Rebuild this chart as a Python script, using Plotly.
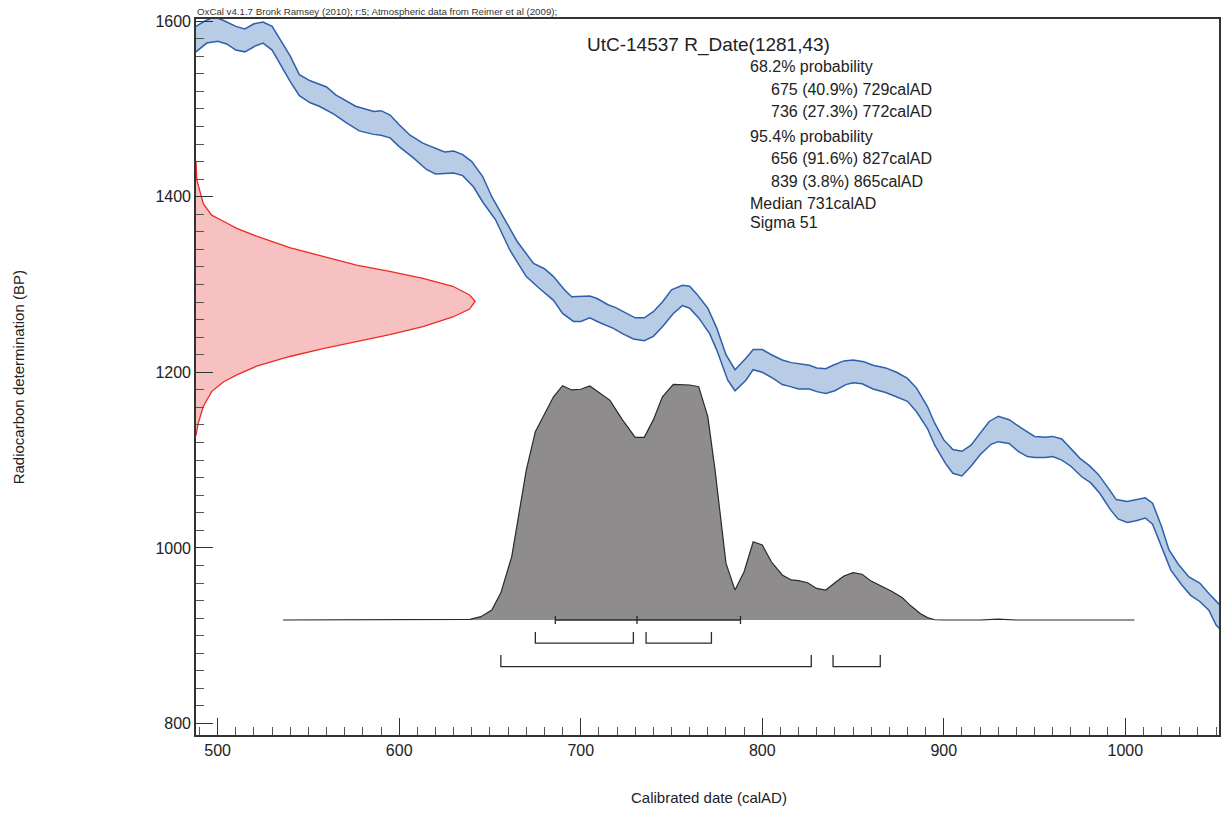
import plotly.graph_objects as go

# ---------------- data ----------------
# Calibration curve (IntCal09 band), upper and lower 1-sigma edges
cal_year_upper = [488, 492, 498, 503, 510, 515, 520, 525, 530, 534, 540, 545, 551, 560, 565, 576, 586, 590, 595, 600,
                  606, 613, 625, 630, 635, 640, 646, 651, 659, 665, 674, 680, 685, 691, 695, 705, 709, 715, 719, 725,
                  730, 735, 740, 745, 750, 756, 760, 764, 770, 775, 780, 785, 791, 795, 800, 805, 811, 816, 826, 830,
                  835, 839, 845, 850, 856, 861, 868, 874, 880, 885, 891, 895, 900, 905, 910, 915, 920, 925, 930, 936,
                  943, 950, 956, 960, 965, 970, 975, 980, 985, 991, 995, 1001, 1006, 1011, 1015, 1020, 1024, 1029,
                  1035, 1041, 1046, 1052]
cal_bp_upper = [1594, 1599, 1605, 1601, 1594, 1591, 1597, 1599, 1594, 1580, 1560, 1539, 1532, 1525, 1516, 1503, 1497,
                1498, 1493, 1482, 1470, 1461, 1451, 1452, 1448, 1440, 1423, 1400, 1370, 1349, 1324, 1318, 1309, 1294,
                1286, 1287, 1284, 1277, 1274, 1267, 1262, 1262, 1269, 1280, 1294, 1299, 1298, 1289, 1273, 1250, 1220,
                1203, 1216, 1226, 1226, 1220, 1214, 1211, 1208, 1205, 1204, 1208, 1213, 1214, 1212, 1208, 1205, 1200,
                1193, 1182, 1161, 1142, 1123, 1112, 1110, 1117, 1131, 1144, 1150, 1146, 1136, 1127, 1126, 1127, 1124,
                1113, 1102, 1094, 1084, 1067, 1055, 1053, 1055, 1057, 1051, 1024, 998, 982, 967, 960, 948, 935]
cal_year_lower = [488, 494, 500, 505, 510, 515, 521, 525, 530, 534, 540, 545, 551, 556, 564, 571, 578, 586, 590, 595,
                  600, 608, 615, 620, 630, 635, 641, 646, 653, 661, 670, 677, 685, 690, 696, 700, 705, 710, 718, 723,
                  729, 735, 740, 745, 751, 756, 760, 765, 771, 775, 781, 785, 791, 795, 800, 806, 811, 815, 820, 826,
                  830, 835, 840, 846, 850, 855, 861, 868, 874, 880, 885, 891, 895, 901, 905, 910, 915, 920, 926, 930,
                  936, 941, 946, 950, 956, 960, 965, 970, 976, 981, 986, 992, 996, 1001, 1006, 1011, 1015, 1020, 1025,
                  1031, 1036, 1041, 1046, 1050, 1052]
cal_bp_lower = [1565, 1575, 1577, 1574, 1567, 1565, 1572, 1575, 1567, 1552, 1531, 1515, 1507, 1503, 1494, 1484, 1475,
                1471, 1470, 1467, 1457, 1444, 1431, 1426, 1427, 1424, 1411, 1394, 1374, 1339, 1309, 1296, 1282, 1267,
                1258, 1258, 1262, 1257, 1250, 1244, 1238, 1236, 1241, 1252, 1267, 1276, 1273, 1262, 1244, 1225, 1191,
                1179, 1191, 1203, 1200, 1193, 1186, 1184, 1181, 1181, 1178, 1176, 1179, 1186, 1188, 1187, 1181, 1177,
                1172, 1167, 1155, 1136, 1117, 1096, 1085, 1082, 1093, 1106, 1118, 1121, 1119, 1110, 1104, 1103, 1103,
                1104, 1100, 1093, 1081, 1074, 1062, 1043, 1033, 1029, 1031, 1034, 1027, 1001, 975, 958, 946, 939, 929,
                912, 908]

# Radiocarbon measurement R_Date(1281,43): relative probability vs BP
date_bp = [1440, 1419, 1392, 1379, 1372, 1364, 1355, 1342, 1332, 1322, 1315, 1307, 1298, 1288, 1281,
           1272, 1263, 1252, 1243, 1235, 1227, 1218, 1207, 1197, 1189, 1178, 1161, 1142, 1128]
date_prob = [0, 0.003, 0.026, 0.056, 0.098, 0.146, 0.217, 0.336, 0.455, 0.575, 0.694, 0.813, 0.92, 0.98, 1.0,
             0.98, 0.92, 0.813, 0.694, 0.575, 0.455, 0.336, 0.217, 0.146, 0.098, 0.056, 0.026, 0.008, 0]

# Calibrated date: relative probability vs calAD
cal_dist_year = [536, 600, 620, 630, 639, 645, 651, 656, 662, 670, 675, 685, 690, 695, 700, 705, 711, 716, 723, 730,
                 735, 740, 745, 751, 760, 765, 770, 774, 780, 785, 790, 795, 800, 805, 811, 816, 820, 825, 830, 835,
                 840, 845, 850, 855, 860, 866, 871, 877, 882, 887, 891, 895, 900, 920, 930, 940, 1005]
cal_dist_prob = [0, 0, 0.001, 0.002, 0.003, 0.014, 0.042, 0.115, 0.269, 0.636, 0.799, 0.947, 0.994, 0.976, 0.979,
                 0.993, 0.962, 0.933, 0.849, 0.775, 0.775, 0.849, 0.947, 1.0, 0.997, 0.990, 0.863, 0.636, 0.241,
                 0.127, 0.205, 0.332, 0.318, 0.247, 0.191, 0.170, 0.167, 0.158, 0.134, 0.127, 0.158, 0.187, 0.201,
                 0.194, 0.165, 0.144, 0.123, 0.096, 0.059, 0.028, 0.010, 0.001, 0, 0, 0.004, 0, 0]

# Ranges
range68_from = [675, 736]
range68_to = [729, 772]
range68_pct = ["40.9", "27.3"]
range95_from = [656, 839]
range95_to = [827, 865]
range95_pct = ["91.6", "3.8"]
median_date = 731
mean_date = 737
sigma_date = 51

x_tick_labels = ["500", "600", "700", "800", "900", "1000"]
y_tick_labels = ["800", "1000", "1200", "1400", "1600"]

# ---------------- style ----------------
FONT = "Liberation Sans, Arial, Helvetica, sans-serif"
BLUE_LINE = "#2D5FAD"
BLUE_FILL = "#B9CCE5"
RED_LINE = "#EE2A24"
RED_FILL = "#F8C1C1"
GREY_FILL = "#8E8C8D"
DARK = "#2A2A2A"

W, H = 1223, 834
ML, MR, MT, MB = 196, 2, 19, 99
PW, PH = W - ML - MR, H - MT - MB


def px_x(px):
    return (px - ML) / PW


def px_y(py):
    return (H - MB - py) / PH


fig = go.Figure()

# Calibration band
band_x = cal_year_upper + cal_year_lower[::-1]
band_y = cal_bp_upper + cal_bp_lower[::-1]
fig.add_trace(go.Scatter(x=band_x, y=band_y, fill="toself", fillcolor=BLUE_FILL, mode="none",
                         hoverinfo="skip"))
fig.add_trace(go.Scatter(x=cal_year_upper, y=cal_bp_upper, mode="lines",
                         line=dict(color=BLUE_LINE, width=1.5)))
fig.add_trace(go.Scatter(x=cal_year_lower, y=cal_bp_lower, mode="lines",
                         line=dict(color=BLUE_LINE, width=1.5)))

# Radiocarbon date distribution (on y-axis)
fig.add_trace(go.Scatter(x=date_prob, y=date_bp, xaxis="x2", yaxis="y", mode="lines",
                         fill="tozerox", fillcolor=RED_FILL, line=dict(color=RED_LINE, width=1.3)))

# Calibrated distribution
fig.add_trace(go.Scatter(x=cal_dist_year, y=cal_dist_prob, xaxis="x", yaxis="y2", mode="lines",
                         fill="tozeroy", fillcolor=GREY_FILL, line=dict(color=DARK, width=1.2)))


def bracket_segments(starts, ends, top, bottom):
    xs, ys = [], []
    for a, b in zip(starts, ends):
        xs += [a, a, b, b, None]
        ys += [top, bottom, bottom, top, None]
    return xs, ys


bx, by = bracket_segments(range68_from, range68_to, -0.051, -0.098)
fig.add_trace(go.Scatter(x=bx, y=by, xaxis="x", yaxis="y2", mode="lines",
                         line=dict(color=DARK, width=1.3)))
bx, by = bracket_segments(range95_from, range95_to, -0.149, -0.198)
fig.add_trace(go.Scatter(x=bx, y=by, xaxis="x", yaxis="y2", mode="lines",
                         line=dict(color=DARK, width=1.3)))

# mean +/- sigma bar with median tick
mx, my = [mean_date - sigma_date, mean_date + sigma_date, None], [0, 0, None]
for t in [mean_date - sigma_date, median_date, mean_date + sigma_date]:
    mx += [t, t, None]
    my += [0.017, -0.017, None]
fig.add_trace(go.Scatter(x=mx, y=my, xaxis="x", yaxis="y2", mode="lines",
                         line=dict(color=DARK, width=1.3)))

axis_common = dict(
    showline=True, linecolor="#333333", linewidth=1.6, mirror=True,
    showgrid=False, zeroline=False,
    ticks="inside", ticklen=17, tickwidth=1.3, tickcolor="#333333",
    tickfont=dict(family=FONT, size=16, color="#222222"),
)

fig.update_layout(
    width=W, height=H, autosize=False,
    margin=dict(l=ML, r=MR, t=MT, b=MB, pad=0),
    paper_bgcolor="white", plot_bgcolor="white",
    showlegend=False,
    font=dict(family=FONT, color="#222222"),
    xaxis=dict(range=[488.07, 1051.6], tickmode="array",
               tickvals=[int(v) for v in x_tick_labels], ticktext=x_tick_labels,
               minor=dict(dtick=10, tick0=0, ticks="inside", ticklen=8, tickwidth=1.2,
                          tickcolor="#555555", showgrid=False),
               **axis_common),
    yaxis=dict(range=[786.9, 1602.4], tickmode="array",
               tickvals=[int(v) for v in y_tick_labels], ticktext=y_tick_labels,
               minor=dict(dtick=20, tick0=0, ticks="inside", ticklen=8, tickwidth=1.2,
                          tickcolor="#555555", showgrid=False),
               **axis_common),
    xaxis2=dict(overlaying="x", anchor="y", range=[0, PW / 279.7], visible=False),
    yaxis2=dict(overlaying="y", anchor="x", range=[-0.4879, 2.5498], visible=False),
)

ann = []
ann.append(dict(text="OxCal v4.1.7 Bronk Ramsey (2010); r:5; Atmospheric data from Reimer et al (2009);",
                x=px_x(195), y=px_y(12), xanchor="left", yanchor="middle",
                font=dict(size=9.7, color="#333333")))
ann.append(dict(text="UtC-14537 R_Date(1281,43)", x=px_x(585.5), y=px_y(45),
                xanchor="left", yanchor="middle", font=dict(size=19, color="#222222")))
lines = [
    ("68.2% probability", 749, 66),
    ("%d (%s%%) %dcalAD" % (range68_from[0], range68_pct[0], range68_to[0]), 770, 89.3),
    ("%d (%s%%) %dcalAD" % (range68_from[1], range68_pct[1], range68_to[1]), 770, 111.7),
    ("95.4% probability", 749, 136),
    ("%d (%s%%) %dcalAD" % (range95_from[0], range95_pct[0], range95_to[0]), 770, 158.3),
    ("%d (%s%%) %dcalAD" % (range95_from[1], range95_pct[1], range95_to[1]), 770, 181.7),
    ("Median %dcalAD" % median_date, 749, 203.3),
    ("Sigma %d" % sigma_date, 749, 222.7),
]
for txt, lx, ly in lines:
    ann.append(dict(text=txt, x=px_x(lx), y=px_y(ly), xanchor="left", yanchor="middle",
                    font=dict(size=16, color="#222222")))
ann.append(dict(text="Radiocarbon determination (BP)", x=px_x(18), y=px_y(377), textangle=-90,
                xanchor="center", yanchor="middle", font=dict(size=15, color="#222222")))
ann.append(dict(text="Calibrated date (calAD)", x=px_x(710), y=px_y(798),
                xanchor="center", yanchor="middle", font=dict(size=15, color="#222222")))
for a in ann:
    a.update(xref="paper", yref="paper", showarrow=False)
fig.update_layout(annotations=ann)

fig.write_html("out.html", config={"displayModeBar": False},
               post_script="document.body.style.margin='0';document.body.style.overflow='hidden';")
